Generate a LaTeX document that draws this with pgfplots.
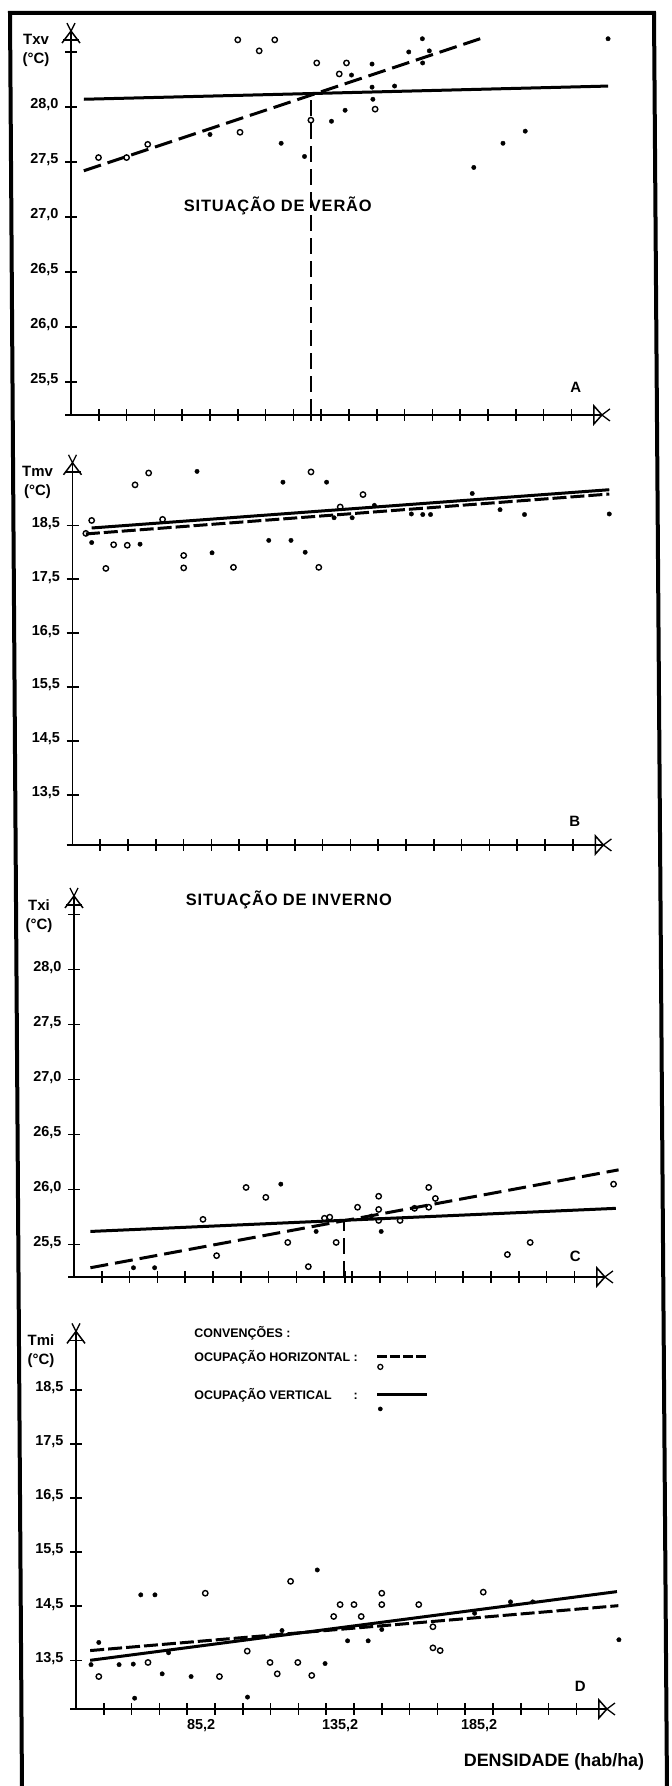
\documentclass[border=0pt]{standalone}
\usepackage{fontspec}
\setmainfont{Liberation Sans}
\usepackage{pgfplots}
\pgfplotsset{compat=1.18}

\newcommand\fs[1]{\fontsize{#1}{#1}\selectfont\bfseries}

\pgfplotsset{
  panel/.style={
    scale only axis, width=550.4bp,
    xmin=40.2, xmax=238.2,
    axis x line=bottom, axis y line=left,
    axis line style={draw=none},
    xtick={50.2,60.2,70.2,80.2,90.2,100.2,110.2,120.2,130.2,140.2,150.2,160.2,170.2,180.2,190.2,200.2,210.2,220.2},
    xticklabel=\empty,
    tick align=center,
    major tick length=12bp,
    every tick/.style={black, line width=1.6bp},
    /pgf/number format/assume math mode=true,
    tick label style={font=\fs{14.5}},
    yticklabel style={yshift=2bp, xshift=-3bp},
    clip=false,
  },
  hor/.style={only marks, mark=o, mark size=2.7bp, mark options={line width=1.4bp, black}},
  ver/.style={only marks, mark=*, mark size=2.2bp, black},
  regh/.style={black, line width=3bp, dash pattern=on 18bp off 7bp, no marks},
  reghb/.style={black, line width=3bp, dash pattern=on 14bp off 4bp, no marks},
  regv/.style={black, line width=3bp, no marks},
  vref/.style={black, line width=1.4bp, dash pattern=on 16bp off 7bp, no marks},
}

% named points of each axis, set inside the axis
\newcommand\pts[1]{%
  \coordinate (#1o) at (rel axis cs:0,0);
  \coordinate (#1t) at (rel axis cs:0,1);
  \coordinate (#1x) at (rel axis cs:0.9646,0);
}
% axis lines and arrow heads, drawn after the axis
\newcommand\deco[1]{%
  \draw[line width=1.5bp] (#1o) -- (#1t);
  \draw[line width=1.5bp] ([shift={(-9,-12)}]#1t) -- (#1t) -- ([shift={(9,-12)}]#1t);
  \draw[line width=1.5bp] ([shift={(-8,-9)}]#1t) -- ([shift={(8,-9)}]#1t);
  \draw[line width=1.3bp] ([shift={(-4,8)}]#1t) -- (#1t) -- ([shift={(4,8)}]#1t);
  \draw[line width=2bp] ([shift={(-6,0)}]#1o) -- (#1x);
  \draw[line width=1.5bp] ([shift={(-8,-9)}]#1x) -- ([shift={(-8,9)}]#1x) -- (#1x) -- cycle;
  \draw[line width=1.3bp] ([shift={(8,6)}]#1x) -- (#1x) -- ([shift={(8,-6)}]#1x);
}
\newcommand\ylab[1]{\node[anchor=north, align=center, font=\fontsize{15}{19}\selectfont\bfseries, xshift=-35bp] at (rel axis cs:0,1) {#1\\(°C)};}

\begin{document}
\begin{tikzpicture}[x=1bp,y=1bp]
\useasboundingbox (0,0) rectangle (672,1786);
\draw[line width=4bp] (22,-5) -- (10,1773) -- (654,1773) -- (667,-5);

% ---------------- Panel A ----------------
\begin{axis}[panel, at={(71bp,1371bp)}, anchor=south west, height=383.9bp,
  ymin=25.2, ymax=28.69,
  ytick={25.5,26,26.5,27,27.5,28,28.5},
  yticklabels={{25,5},{26,0},{26,5},{27,0},{27,5},{28,0},{}},
  extra x ticks={126.6}, extra x tick labels={}]
\addplot[hor] coordinates {(50.1,27.54) (60.2,27.54) (67.8,27.66) (100.2,28.61) (107.9,28.51) (113.5,28.61) (101.0,27.77) (128.6,28.40) (126.5,27.88) (139.3,28.40) (136.7,28.30) (149.6,27.98)};
\addplot[ver] coordinates {(90.2,27.75) (115.8,27.67) (124.2,27.55) (133.9,27.87) (138.8,27.97) (141.1,28.29) (148.5,28.39) (148.5,28.18) (148.8,28.07) (156.6,28.19) (161.7,28.50) (166.6,28.62) (166.7,28.40) (169.1,28.51) (185.1,27.45) (195.6,27.67) (203.6,27.78) (233.4,28.62)};
\addplot[regv] coordinates {(44.8,28.07) (233.4,28.19)};
\addplot[regh] coordinates {(44.8,27.42) (187.4,28.62)};
\addplot[vref] coordinates {(126.6,25.2) (126.6,28.12)};
\pts{A}
\ylab{Txv}
\node[font=\fs{16.5}\addfontfeature{LetterSpace=5}] at (axis cs:114.6,27.1) {SITUAÇÃO DE VERÃO};
\node[font=\fs{15}] at (axis cs:221.8,25.45) {A};
\end{axis}
\deco{A}

% ---------------- Panel B ----------------
\begin{axis}[panel, at={(72.5bp,941bp)}, anchor=south west, height=382.2bp,
  ymin=12.57, ymax=19.66,
  ytick={13.5,14.5,15.5,16.5,17.5,18.5},
  yticklabels={{13,5},{14,5},{15,5},{16,5},{17,5},{18,5}}]
\addplot[hor] coordinates {(45.0,18.35) (47.1,18.59) (52.2,17.70) (55.0,18.14) (59.9,18.13) (62.7,19.25) (67.6,19.47) (72.6,18.61) (80.2,17.94) (80.2,17.71) (98.1,17.72) (126.0,19.49) (128.8,17.72) (136.5,18.84) (144.7,19.07)};
\addplot[ver] coordinates {(47.1,18.18) (64.5,18.15) (85.0,19.50) (90.4,17.99) (110.8,18.22) (115.9,19.30) (118.8,18.22) (123.9,18.00) (131.6,19.30) (134.3,18.64) (140.8,18.64) (148.8,18.87) (162.1,18.71) (166.2,18.70) (169.0,18.70) (184.0,19.09) (194.0,18.79) (202.8,18.70) (233.3,18.71)};
\addplot[regv] coordinates {(47.1,18.45) (233.3,19.16)};
\addplot[reghb] coordinates {(45.0,18.34) (233.3,19.08)};
\pts{B}
\ylab{Tmv}
\node[font=\fs{15}] at (axis cs:220.9,13.0) {B};
\end{axis}
\deco{B}

% ---------------- Panel C ----------------
\begin{axis}[panel, at={(74bp,509bp)}, anchor=south west, height=381bp,
  ymin=25.206, ymax=28.67,
  ytick={25.5,26,26.5,27,27.5,28,28.5},
  yticklabels={{25,5},{26,0},{26,5},{27,0},{27,5},{28,0},{}},
  extra x ticks={137.7}, extra x tick labels={}]
\addplot[hor] coordinates {(86.6,25.73) (91.5,25.40) (102.1,26.02) (109.2,25.93) (117.1,25.52) (124.5,25.30) (130.3,25.74) (132.2,25.75) (134.5,25.52) (142.2,25.84) (149.8,25.94) (149.8,25.82) (149.8,25.72) (157.5,25.72) (162.7,25.83) (167.8,26.02) (167.8,25.84) (170.2,25.92) (196.1,25.41) (204.3,25.52) (234.3,26.05)};
\addplot[ver] coordinates {(61.6,25.29) (69.2,25.29) (114.6,26.05) (127.3,25.62) (147.2,25.76) (150.7,25.62)};
\addplot[regv] coordinates {(46.1,25.62) (235.1,25.83)};
\addplot[regh] coordinates {(46.1,25.29) (236.1,26.18)};
\addplot[vref] coordinates {(137.3,25.206) (137.3,25.72)};
\pts{C}
\ylab{Txi}
\node[font=\fs{16.5}\addfontfeature{LetterSpace=5}] at (axis cs:117.5,28.63) {SITUAÇÃO DE INVERNO};
\node[font=\fs{15}] at (axis cs:220.5,25.39) {C};
\end{axis}
\deco{C}

% ---------------- Panel D ----------------
\begin{axis}[panel, at={(76bp,77bp)}, anchor=south west, height=377.6bp,
  ymin=12.60, ymax=19.58,
  ytick={13.5,14.5,15.5,16.5,17.5,18.5},
  yticklabels={{13,5},{14,5},{15,5},{16,5},{17,5},{18,5}},
  extra x ticks={85.2,135.2,185.2},
  extra x tick labels={{85,2},{135,2},{185,2}},
  extra x tick style={major tick length=0pt, xticklabel style={yshift=-7bp}},
  legend plot pos=right,
  legend cell align=left,
  legend style={draw=none, fill=none, at={(0.211,1.02)}, anchor=north west,
    inner sep=0pt, row sep=8bp, column sep=16bp, font=\fs{12.5}}]
\addplot[hor, forget plot] coordinates {(48.4,13.20) (66.1,13.46) (86.7,14.74) (91.8,13.20) (101.8,13.67) (110.0,13.46) (112.6,13.25) (117.4,14.96) (120.0,13.46) (125.0,13.22) (132.9,14.31) (135.2,14.53) (140.2,14.53) (142.8,14.31) (150.2,14.74) (150.2,14.53) (163.5,14.53) (168.6,14.12) (168.6,13.73) (171.2,13.68) (186.7,14.76)};
\addplot[ver, forget plot] coordinates {(45.6,13.42) (48.4,13.83) (55.7,13.42) (60.8,13.43) (61.3,12.80) (63.5,14.71) (68.6,14.71) (73.5,13.64) (71.2,13.25) (81.6,13.20) (101.9,12.82) (114.3,14.05) (127.0,15.17) (129.8,13.44) (137.9,13.86) (145.3,13.86) (150.2,14.07) (183.6,14.37) (196.5,14.58) (204.5,14.58) (235.5,13.88)};
\addplot[regv, forget plot] coordinates {(45.3,13.50) (234.8,14.77)};
\addplot[reghb, forget plot] coordinates {(45.3,13.68) (235.3,14.51)};
\addlegendimage{empty legend}\addlegendentry{CONVENÇÕES :}
\addlegendimage{legend image code/.code={\draw[line width=3bp, dash pattern=on 10bp off 3bp] (0bp,0bp) -- (50bp,0bp); \draw[overlay, line width=1.3bp] (3bp,-10bp) circle (2.5bp);}}
\addlegendentry{OCUPAÇÃO HORIZONTAL :}
\addlegendimage{empty legend}\addlegendentry{}
\addlegendimage{legend image code/.code={\draw[line width=3bp] (0bp,0bp) -- (50bp,0bp); \fill[overlay] (3bp,-14bp) circle (2.1bp);}}
\addlegendentry{\rlap{OCUPAÇÃO VERTICAL}\phantom{OCUPAÇÃO HORIZONTAL} :}
\pts{D}
\ylab{Tmi}
\node[font=\fs{15}] at (axis cs:221.6,13.02) {D};
\end{axis}
\deco{D}

\node[anchor=base, font=\fs{18}] at (554,19) {DENSIDADE (hab/ha)};
\end{tikzpicture}
\end{document}
